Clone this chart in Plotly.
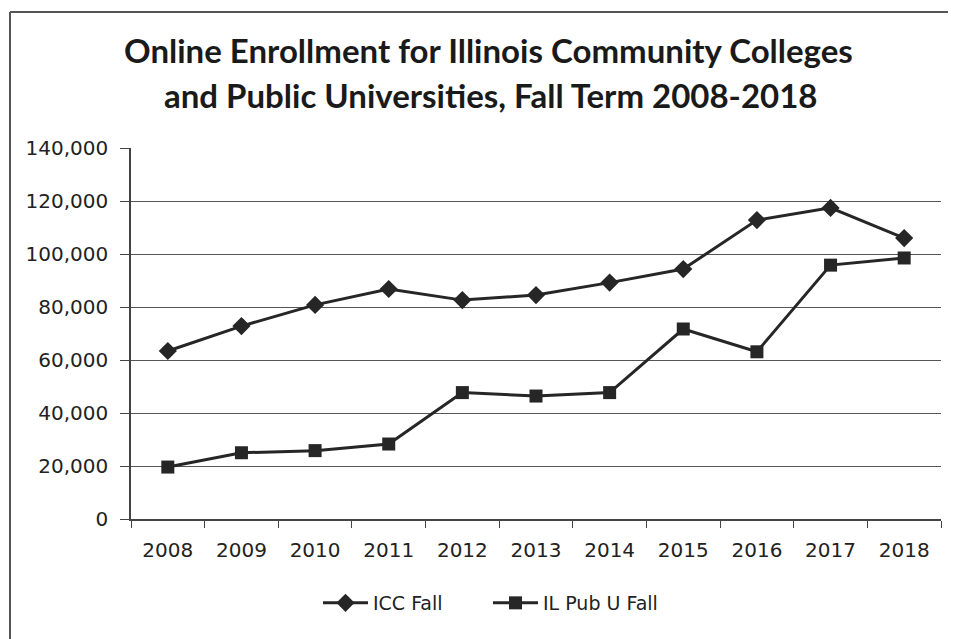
import plotly.graph_objects as go

years = ["2008", "2009", "2010", "2011", "2012", "2013", "2014", "2015", "2016", "2017", "2018"]
icc_fall = [63400, 72800, 80800, 86800, 82600, 84500, 89200, 94300, 112800, 117400, 106000]
il_pub_u_fall = [19600, 25000, 25800, 28300, 47700, 46400, 47700, 71700, 63100, 95800, 98500]
y_ticks = [0, 20000, 40000, 60000, 80000, 100000, 120000, 140000]

# page body has an 8px margin; work in page coordinates and shift
OFF = 8
PW, PH = 956, 639
W, H = PW - OFF, PH - OFF
L, R, T, B = 131 - OFF, 941 - OFF, 148 - OFF, 519 - OFF


def px(xp):
    return (xp - OFF - L) / (R - L)


def py(yp):
    return (B - (yp - OFF)) / (B - T)


ink = "#262626"
fig = go.Figure()
fig.add_trace(go.Scatter(
    x=years, y=icc_fall, name="ICC Fall", mode="lines+markers",
    line=dict(color=ink, width=3),
    marker=dict(symbol="diamond", size=14, color=ink),
))
fig.add_trace(go.Scatter(
    x=years, y=il_pub_u_fall, name="IL Pub U Fall", mode="lines+markers",
    line=dict(color=ink, width=3),
    marker=dict(symbol="square", size=13, color=ink),
))

tickfont = dict(family="DejaVu Sans", size=20, color="#222222")
fig.update_layout(
    width=W, height=H,
    margin=dict(l=L, r=W - R, t=T, b=H - B),
    paper_bgcolor="white", plot_bgcolor="white",
    showlegend=True,
    legend=dict(orientation="h", x=px(318), xref="paper", xanchor="left",
                y=py(603), yanchor="middle",
                font=dict(family="DejaVu Sans", size=19, color="#222222"),
                itemwidth=45, entrywidth=110,
                traceorder="normal"),
    xaxis=dict(type="category", tickfont=tickfont, showgrid=False,
               showline=True, linecolor="#444444", linewidth=1.5,
               ticks="outside", tickson="boundaries", ticklen=7, tickcolor="#444444",
               ticklabelstandoff=12, range=[-0.5, 10.5]),
    yaxis=dict(range=[0, 140000], tickvals=y_ticks, tickformat=",", tickfont=tickfont,
               showgrid=True, gridcolor="#555555", gridwidth=1.2,
               showline=True, linecolor="#444444", linewidth=1.5,
               ticks="outside", ticklen=9, tickcolor="#444444", zeroline=False,
               ticklabelstandoff=8),
    font=dict(family="DejaVu Sans", color="#222222"),
)

title_font = dict(family="Lato", size=33, color="#1a1a1a")
fig.add_annotation(text="<b>Online Enrollment for Illinois Community Colleges</b>",
                   xref="paper", yref="paper", x=px(488), y=py(50),
                   xanchor="center", yanchor="middle", showarrow=False, font=title_font)
fig.add_annotation(text="<b>and Public Universities, Fall Term 2008-2018</b>",
                   xref="paper", yref="paper", x=px(490), y=py(95),
                   xanchor="center", yanchor="middle", showarrow=False, font=title_font)

# chart frame (top and left edges visible)
fig.add_shape(type="line", xref="paper", yref="paper",
              x0=px(10), x1=px(PW + 5), y0=py(12), y1=py(12),
              line=dict(color="#555555", width=2))
fig.add_shape(type="line", xref="paper", yref="paper",
              x0=px(10), x1=px(10), y0=py(12), y1=py(PH + 5),
              line=dict(color="#555555", width=2))

fig.write_html("out.html")
